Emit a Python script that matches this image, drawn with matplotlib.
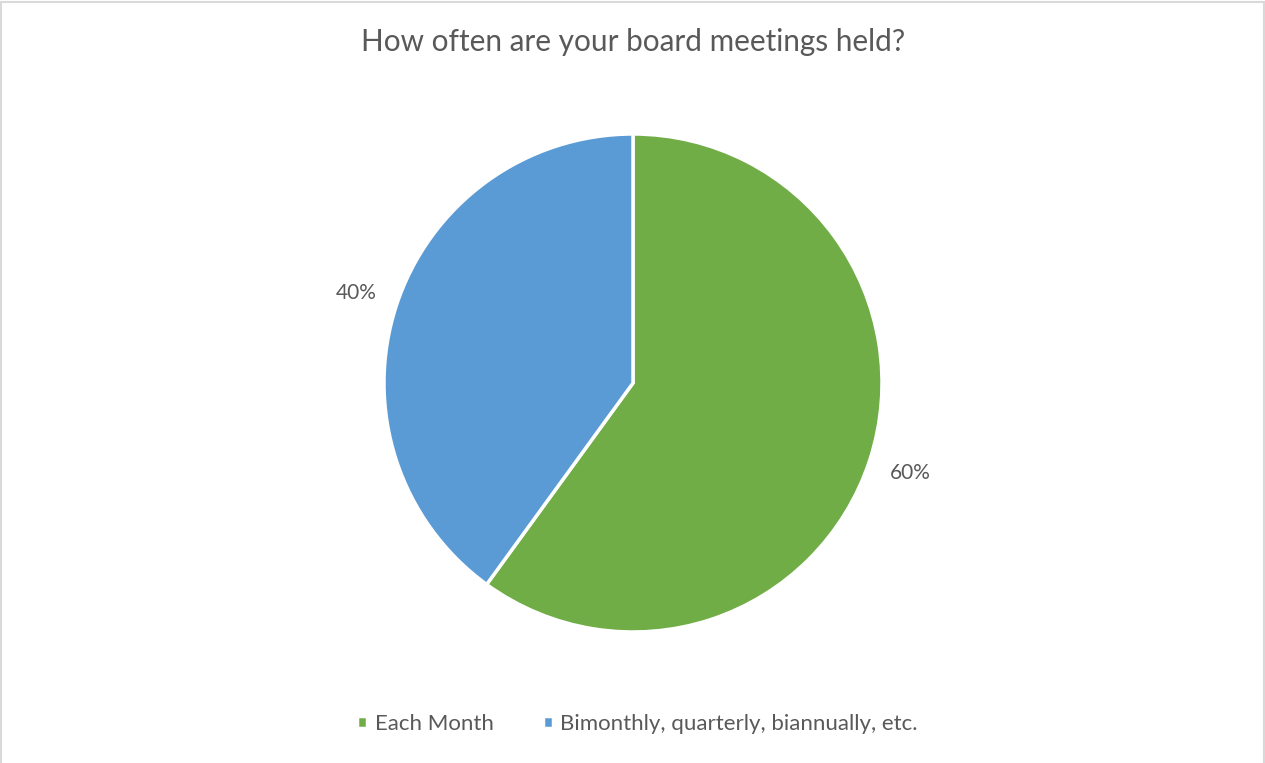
import matplotlib.pyplot as plt
from matplotlib.patches import Rectangle

categories = ['Each Month', 'Bimonthly, quarterly, biannually, etc.']
shares = [60, 40]
colors = ['#70AD47', '#5B9BD5']
text_color = '#595959'

plt.rcParams['font.family'] = ['Lato', 'DejaVu Sans']

W, H = 1265, 763
fig = plt.figure(figsize=(W / 100, H / 100), dpi=100)
fig.patch.set_facecolor('white')

# thin grey frame around the chart area
fig.patches.append(Rectangle((0.5 / W, -0.01), 1 - 1.5 / W, 1.01 - 1.5 / H,
                             transform=fig.transFigure, fill=False,
                             edgecolor='#D9D9D9', linewidth=1.5))

cx, cy, r = 633, 383, 249
ax = fig.add_axes([(cx - r) / W, (H - cy - r) / H, 2 * r / W, 2 * r / H])
wedges, texts, autotexts = ax.pie(
    shares, colors=colors, startangle=90, counterclock=False,
    autopct='%1.0f%%', pctdistance=1.17, radius=1,
    wedgeprops=dict(edgecolor='white', linewidth=2.5),
    textprops=dict(color=text_color, fontsize=15))
ax.set_xlim(-1, 1)
ax.set_ylim(-1, 1)
ax.set_aspect('equal')
ax.axis('off')

fig.text(cx / W, 1 - 42 / H, 'How often are your board meetings held?',
         ha='center', va='center', fontsize=21.4, color=text_color)

fig.legend(wedges, categories, loc='center', bbox_to_anchor=(637.5 / W, 1 - 724 / H),
           ncol=2, frameon=False, fontsize=16, labelcolor=text_color,
           handlelength=0.45, handleheight=0.45, handletextpad=0.35,
           columnspacing=2.2)

fig.savefig('out.png', dpi=100, facecolor='white')
